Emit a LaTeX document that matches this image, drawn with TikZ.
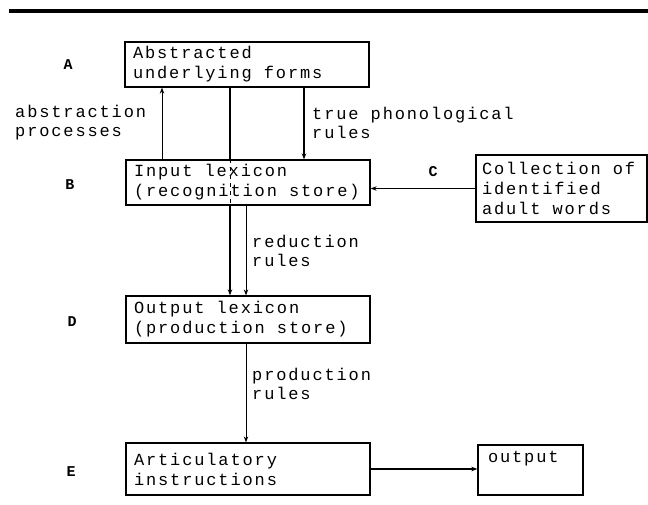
\documentclass[tikz,border=0pt]{standalone}
\usepackage{fontspec}
\newfontfamily\tw[LetterSpace=11]{Liberation Mono}
\newcommand{\twsp}{\spaceskip=12.1pt plus 0pt minus 0pt\xspaceskip=12.1pt plus 0pt minus 0pt\relax}
\usetikzlibrary{arrows.meta}
\begin{document}
\begin{tikzpicture}[x=1pt,y=-1pt,
  box/.style={draw,line width=1.3pt,inner ysep=0pt,align=left,font=\tw\fontsize{17}{20}\selectfont,execute at begin node=\twsp},
  lbl/.style={inner sep=0pt,align=left,anchor=west,text width=230pt,font=\tw\fontsize{17}{19}\selectfont,execute at begin node=\twsp},
  tag/.style={inner sep=0pt,font=\tw\bfseries\fontsize{15}{18}\selectfont},
  arr/.style={-{Stealth[length=6pt,width=4.5pt]},line width=0.9pt},
]
\useasboundingbox (0,0) rectangle (648,504);
\fill (9,9) rectangle (648,13);
% boxes
\node[box, text width=228pt, inner xsep=8pt, minimum height=45pt] (A) at (247,64.5) {Abstracted\\underlying forms};
\node[box, text width=228pt, inner xsep=8pt, minimum height=45pt] (B) at (248,182.5) {Input lexicon\\(recognition store)};
\node[box, text width=159pt, inner xsep=6pt, minimum height=67pt] (C) at (561.5,188.5) {Collection of\\identified\\adult words};
\node[box, text width=228pt, inner xsep=8pt, minimum height=47pt] (D) at (248,319.5) {Output lexicon\\(production store)};
\node[box, text width=228pt, inner xsep=8pt, minimum height=52pt] (E) at (248,469) {Articulatory\\instructions};
\node[box, text width=85pt, inner xsep=10pt, minimum height=50pt] (O) at (530.5,470) {output\\\strut};
% tags
\node[tag] (tA) at (68,65) {A};
\node[tag] (tB) at (70,185) {B};
\node[tag] (tC) at (433,172) {C};
\node[tag] (tD) at (72,322) {D};
\node[tag] (tE) at (71,472) {E};
% reference columns
\coordinate (x162) at (162,0);
\coordinate (x230) at (230,0);
\coordinate (x246) at (246,0);
\coordinate (x304) at (304,0);
% connectors
\draw[arr] (x162 |- B.north) -- (x162 |- A.south);
\draw[line width=1.4pt] (x230 |- A.south) -- (x230 |- B.north);
\draw[line width=0.8pt,dash pattern=on 4pt off 4pt] (x230 |- B.north) -- (x230 |- B.south);
\draw[arr,line width=1.4pt] (x230 |- B.south) -- (x230 |- D.north);
\draw[arr,line width=1.2pt] (x304 |- A.south) -- (x304 |- B.north);
\draw[arr] (x246 |- B.south) -- (x246 |- D.north);
\draw[arr] (x246 |- D.south) -- (x246 |- E.north);
\draw[arr] (C.west) -- (C.west -| B.east);
\draw[arr,line width=1.2pt] (E.east) -- (E.east -| O.west);
% labels
\node[lbl] (l1) at (15,123) {abstraction\\processes};
\node[lbl] (l2) at (312,123) {true phonological\\rules};
\node[lbl] (l3) at (252,250.5) {reduction\\rules};
\node[lbl] (l4) at (252,384) {production\\rules};
\end{tikzpicture}
\end{document}
